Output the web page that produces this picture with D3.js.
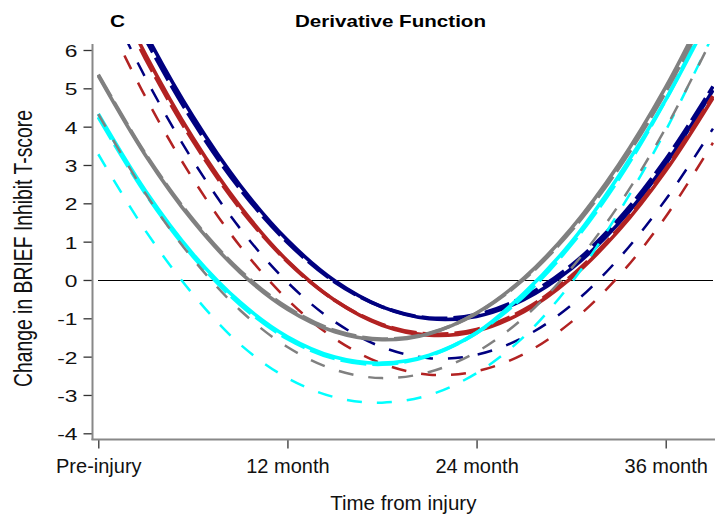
<!DOCTYPE html>
<html>
<head>
<meta charset="utf-8">
<script src="https://cdn.jsdelivr.net/npm/d3@7"></script>
<style>
  body { margin: 0; background: #fff; }
  svg { display: block; font-family: "Liberation Sans", Arial, sans-serif; }
</style>
</head>
<body>
<div id="chart"></div>
<script>
const months = [0, 3, 6, 9, 12, 15, 18, 21, 24, 27, 30, 33, 36, 39];

const navySolid = [8.99, 6.44, 4.27, 2.47, 1.04, -0.02, -0.70, -1.01, -0.95, -0.51, 0.29, 1.47, 3.03, 4.95];
const navyLong  = [8.79, 6.28, 4.14, 2.37, 0.98, -0.05, -0.70, -0.99, -0.90, -0.44, 0.38, 1.58, 3.15, 5.05];
const navyShort = [7.79, 5.27, 3.12, 1.34, -0.06, -1.09, -1.75, -2.04, -1.95, -1.49, -0.66, 0.55, 2.10, 3.95];

const redSolid = [8.44, 5.88, 3.71, 1.92, 0.50, -0.53, -1.18, -1.44, -1.33, -0.83, 0.05, 1.28, 2.85, 4.75];
const redLong  = [8.29, 5.77, 3.63, 1.86, 0.48, -0.53, -1.16, -1.41, -1.29, -0.78, 0.10, 1.33, 2.90, 4.80];
const redShort = [7.26, 4.77, 2.64, 0.88, -0.51, -1.53, -2.18, -2.47, -2.38, -1.93, -1.10, 0.09, 1.65, 3.58];

const graySolid = [5.33, 3.25, 1.54, 0.20, -0.76, -1.35, -1.56, -1.40, -0.86, 0.05, 1.34, 3.00, 5.03, 7.44];
const grayLong  = [5.36, 3.28, 1.58, 0.24, -0.72, -1.32, -1.54, -1.39, -0.87, 0.02, 1.28, 2.91, 4.91, 7.29];
const grayShort = [4.33, 2.25, 0.55, -0.79, -1.75, -2.34, -2.56, -2.40, -1.88, -0.98, 0.30, 1.94, 3.96, 6.35];

const cyanSolid = [4.33, 2.32, 0.68, -0.58, -1.48, -2.01, -2.17, -1.96, -1.38, -0.35, 0.98, 2.70, 4.70, 7.04];
const cyanLong  = [4.25, 2.25, 0.62, -0.64, -1.53, -2.05, -2.20, -1.98, -1.38, -0.42, 0.92, 2.62, 4.70, 7.15];
const cyanShort = [3.28, 1.28, -0.37, -1.68, -2.56, -3.06, -3.20, -3.00, -2.43, -1.48, -0.08, 1.75, 3.90, 6.40];

const xTicks = [0, 12, 24, 36];
const xTickLabels = ["Pre-injury", "12 month", "24 month", "36 month"];
const yTicks = [-4, -3, -2, -1, 0, 1, 2, 3, 4, 5, 6];

const series = [
  { values: navyShort, color: "#000080", kind: "short" },
  { values: navySolid, color: "#000080", kind: "solid" },
  { values: navyLong,  color: "#000080", kind: "long" },
  { values: redShort,  color: "#B22222", kind: "short" },
  { values: redSolid,  color: "#B22222", kind: "solid" },
  { values: redLong,   color: "#B22222", kind: "long" },
  { values: cyanShort, color: "#00FFFF", kind: "short" },
  { values: cyanSolid, color: "#00FFFF", kind: "solid" },
  { values: cyanLong,  color: "#00FFFF", kind: "long" },
  { values: grayShort, color: "#808080", kind: "short" },
  { values: graySolid, color: "#808080", kind: "solid" },
  { values: grayLong,  color: "#808080", kind: "long" }
];

const W = 715, H = 514;
const svg = d3.select("#chart").append("svg")
    .attr("width", W)
    .attr("height", H);

const x = d3.scaleLinear().domain([0, 36]).range([98.3, 665.7]);
const y = d3.scaleLinear().domain([-4, 6]).range([433.3, 50]);

// plot region clip
svg.append("clipPath").attr("id", "plot-clip")
  .append("rect")
    .attr("x", 97)
    .attr("y", 44)
    .attr("width", 617)
    .attr("height", 396);

// zero reference line
svg.append("line")
    .attr("x1", 98).attr("x2", 713)
    .attr("y1", Math.round(y(0)) + 0.5).attr("y2", Math.round(y(0)) + 0.5)
    .attr("stroke", "#000")
    .attr("stroke-width", 1);

const line = d3.line()
    .x((d, i) => x(months[i]))
    .y(d => y(d))
    .curve(d3.curveCatmullRom);

const style = {
  solid: { width: 3.6, dash: null },
  long:  { width: 3.6, dash: "26,6" },
  short: { width: 2.5, dash: "15,15" }
};

svg.append("g")
    .attr("clip-path", "url(#plot-clip)")
  .selectAll("path")
  .data(series)
  .join("path")
    .attr("d", d => line(d.values))
    .attr("fill", "none")
    .attr("stroke", d => d.color)
    .attr("stroke-width", d => style[d.kind].width)
    .attr("stroke-dasharray", d => style[d.kind].dash);

// y axis
const yAxis = svg.append("g")
    .attr("transform", "translate(92.5,0)")
    .call(d3.axisLeft(y).tickValues(yTicks).tickFormat(d => String(d)).tickSize(9).tickSizeOuter(0));
yAxis.select(".domain").remove();
yAxis.selectAll(".tick line").attr("stroke", "#333").attr("stroke-width", 1.3);
yAxis.selectAll(".tick text")
    .attr("x", 0)
    .attr("dy", "0.4em")
    .attr("transform", "translate(-15,0) scale(1.4,1)")
    .attr("font-size", 16.3)
    .attr("font-family", "Liberation Sans, Arial, sans-serif")
    .attr("fill", "#111");
svg.append("line")
    .attr("x1", 92.5).attr("x2", 92.5)
    .attr("y1", 44).attr("y2", 440)
    .attr("stroke", "#888")
    .attr("stroke-width", 2);

// x axis
const xAxis = svg.append("g")
    .attr("transform", "translate(0,439.5)")
    .call(d3.axisBottom(x).tickValues(xTicks).tickFormat((d, i) => xTickLabels[i]).tickSize(9).tickSizeOuter(0));
xAxis.select(".domain").remove();
xAxis.selectAll(".tick line").attr("stroke", "#333").attr("stroke-width", 1.3);
xAxis.selectAll(".tick text")
    .attr("y", 33.2)
    .attr("dy", 0)
    .attr("font-size", 20)
    .attr("font-family", "Liberation Sans, Arial, sans-serif")
    .attr("fill", "#111");
svg.append("line")
    .attr("x1", 91.5).attr("x2", 715)
    .attr("y1", 439.5).attr("y2", 439.5)
    .attr("stroke", "#888")
    .attr("stroke-width", 2);

// axis titles
svg.append("text")
    .attr("transform", "translate(31.7,248.5) scale(1.35,1) rotate(-90)")
    .attr("text-anchor", "middle")
    .attr("font-size", 19)
    .attr("textLength", 277)
    .attr("lengthAdjust", "spacingAndGlyphs")
    .attr("fill", "#111")
    .text("Change in BRIEF Inhibit T-score");

svg.append("text")
    .attr("x", 403.3)
    .attr("y", 510)
    .attr("text-anchor", "middle")
    .attr("font-size", 20.5)
    .attr("fill", "#111")
    .text("Time from injury");

// panel label and title
svg.append("text")
    .attr("x", 110)
    .attr("y", 26.7)
    .attr("font-size", 16.5)
    .attr("font-weight", "bold")
    .attr("textLength", 15)
    .attr("lengthAdjust", "spacingAndGlyphs")
    .text("C");

svg.append("text")
    .attr("x", 295)
    .attr("y", 26.7)
    .attr("font-size", 16.5)
    .attr("font-weight", "bold")
    .attr("textLength", 191)
    .attr("lengthAdjust", "spacingAndGlyphs")
    .text("Derivative Function");
</script>
</body>
</html>
